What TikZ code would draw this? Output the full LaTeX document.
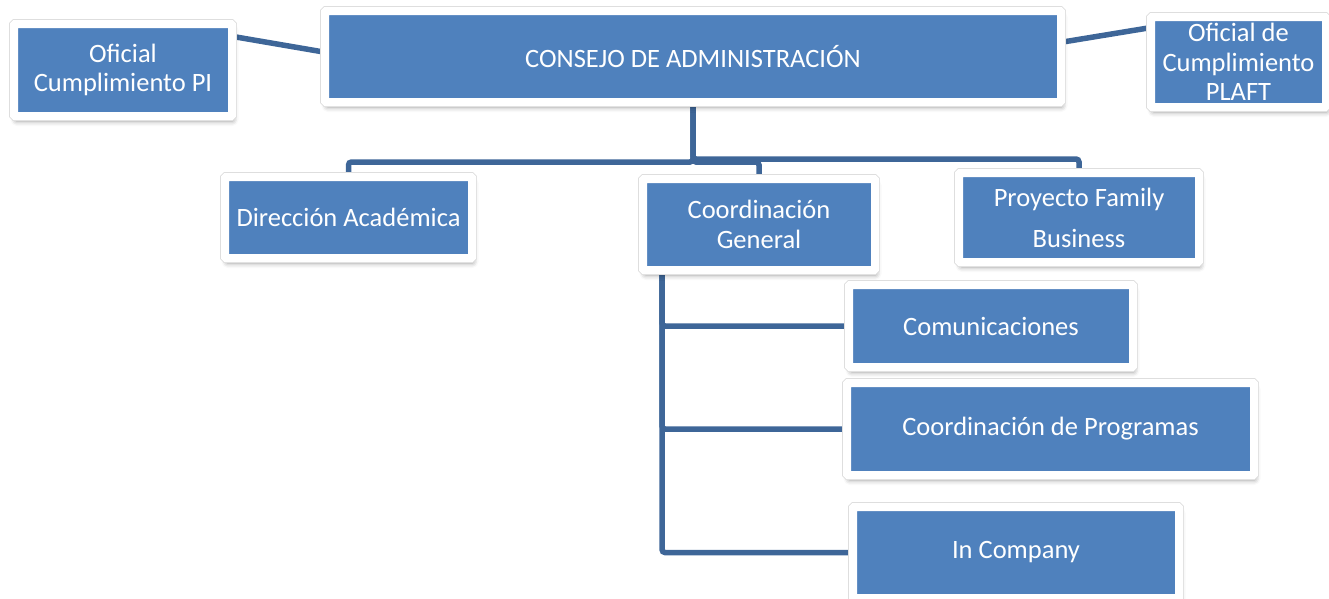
\documentclass[tikz,border=0pt]{standalone}
\usepackage{fontspec}
\setmainfont{Carlito}
\usetikzlibrary{calc,backgrounds,shadows.blur}
\definecolor{boxblue}{RGB}{79,129,189}
\definecolor{linkblue}{RGB}{62,102,152}
\tikzset{
  orgbox/.style={
    blur shadow={shadow xshift=1.5pt, shadow yshift=-5pt, shadow blur radius=5pt, shadow opacity=40},
    preaction={draw=black!13, line width=9.6pt},
    fill=boxblue, draw=white, line width=8pt, rounded corners=1pt,
    text=white, align=center, inner sep=0pt,
    font=\fontsize{26.5}{29.5}\selectfont},
  link/.style={draw=linkblue, line width=5.5pt, rounded corners=3pt}
}
\begin{document}
\begin{tikzpicture}[x=1pt,y=-1pt]
\useasboundingbox (0,0) rectangle (1329,598);
\node[orgbox, minimum width=218pt, minimum height=92pt] (pi) at (123,70) {Oficial\\Cumplimiento PI};
\node[orgbox, minimum width=736pt, minimum height=91pt] (consejo) at (693,56.5) {CONSEJO DE ADMINISTRACIÓN};
\node[orgbox, minimum width=175pt, minimum height=90pt] (plaft) at (1238.5,62) {Oficial de\\Cumplimiento\\PLAFT};
\node[orgbox, minimum width=247pt, minimum height=81pt] (dir) at (348.5,217.5) {Dirección Académica};
\node[orgbox, minimum width=232pt, minimum height=91pt] (cg) at (759,224.5) {Coordinación\\General};
\node[orgbox, minimum width=240pt, minimum height=89pt, font=\fontsize{26.5}{41}\selectfont] (pfb) at (1079,217.5) {Proyecto Family\\Business};
\node[orgbox, minimum width=284pt, minimum height=82pt] (com) at (991,326) {Comunicaciones};
\node[orgbox, minimum width=407pt, minimum height=92pt] (prog) at (1050.5,429) {Coordinación de Programas};
\node[orgbox, minimum width=326pt, minimum height=91pt] (inc) at (1016,552.5) {In Company};
\begin{pgfonlayer}{background}
\draw[link] ($(pi.north east)!0.17!(pi.south east)$) -- ($(consejo.north west)!0.45!(consejo.south west)$);
\draw[link] ($(consejo.north east)!0.35!(consejo.south east)$) -- ($(plaft.north west)!0.155!(plaft.south west)$);
\draw[link] (consejo.south) -- ++(0,56) -| (dir.north);
\draw[link] (consejo.south) -- ++(0,56) -| (cg.north);
\draw[link] (consejo.south) -- ++(0,53) -| (pfb.north);
\draw[link] ($(cg.south west)+(23,-5)$) |- (com.west);
\draw[link] ($(cg.south west)+(23,-5)$) |- (prog.west);
\draw[link] ($(cg.south west)+(23,-5)$) |- (inc.west);
\end{pgfonlayer}
\end{tikzpicture}
\end{document}
